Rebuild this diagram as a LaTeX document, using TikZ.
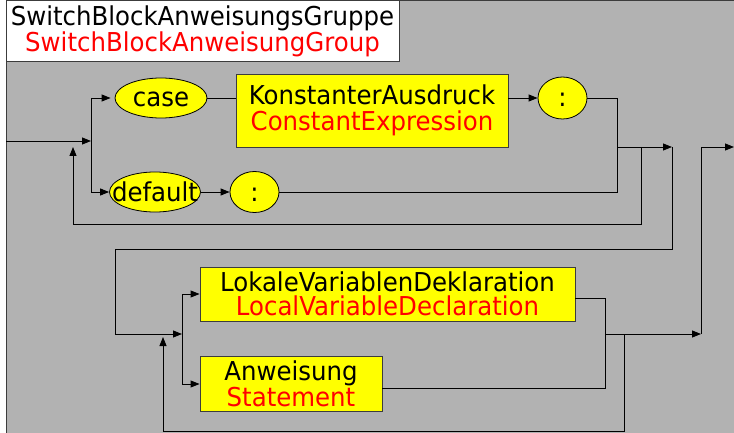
\documentclass[tikz,border=0pt]{standalone}
\usepackage{fontspec}
\setmainfont{DejaVu Sans}[FakeStretch=0.94]
\usetikzlibrary{arrows.meta,shapes.geometric}

\definecolor{panelgray}{HTML}{B2B2B2}
\definecolor{boxyellow}{HTML}{FFFF00}
\definecolor{engred}{HTML}{FF0000}
\definecolor{edgegray}{HTML}{3C3C3C}

% keyword text inside an ellipse: zero width so the ellipse keeps its set size
\newcommand{\railword}[1]{\makebox[0pt][c]{#1}}

\begin{document}
\begin{tikzpicture}[x=1pt,y=-1pt,
  >={Triangle[length=9pt,width=7pt]},
  rail/.style={draw=black,line width=0.9pt},
  ntbox/.style={draw=edgegray,line width=0.9pt,fill=boxyellow,inner sep=0pt,
    align=center,font=\fontsize{26}{24}\selectfont},
  tbox/.style={draw=black,line width=0.8pt,fill=boxyellow,ellipse,inner sep=0pt,
    text height=19pt,text depth=1pt,font=\fontsize{26}{26}\selectfont}
]
\useasboundingbox (0,0) rectangle (734,433);

% panel and heading
\fill[panelgray] (6,1) rectangle (734,433);
\draw[edgegray,line width=1pt] (6,433) -- (6,1) -- (734,1);
\node[draw=edgegray,line width=1pt,fill=white,minimum width=393pt,minimum height=61pt,
  inner sep=0pt,align=center,font=\fontsize{26}{25}\selectfont]
  (title) at (202.5,31.5) {SwitchBlockAnweisungsGruppe\\\textcolor{engred}{SwitchBlockAnweisungGroup}};

% first part: case / default labels
\node[tbox,minimum width=92pt,minimum height=40pt] (case) at (161,98) {\railword{case}};
\node[ntbox,minimum width=272pt,minimum height=73pt,font=\fontsize{26}{26.5}\selectfont]
  (K) at (372,110.5) {KonstanterAusdruck\\\textcolor{engred}{ConstantExpression}};
\node[tbox,minimum width=49pt,minimum height=42pt] (c1) at (562.5,98) {\railword{:}};
\node[tbox,minimum width=91pt,minimum height=40pt] (default) at (155,192) {\railword{default}};
\node[tbox,minimum width=49pt,minimum height=41pt] (c2) at (254.5,192) {\railword{:}};

% second part: block statements
\node[ntbox,minimum width=375pt,minimum height=54pt] (L) at (387.5,294)
  {LokaleVariablenDeklaration\\\textcolor{engred}{LocalVariableDeclaration}};
\node[ntbox,minimum width=182pt,minimum height=55pt] (A) at (291,384)
  {Anweisung\\\textcolor{engred}{Statement}};

% junction points
\coordinate (in) at (6,141);
\coordinate (j1) at (91,141);
\coordinate (m1) at (617,147);
\coordinate (m2) at (672,147);
\coordinate (r1) at (641,147);
\coordinate (loopA) at (73,147);
\coordinate (j2) at (182,334);
\coordinate (m3) at (605,334);
\coordinate (m4) at (701,334);
\coordinate (r2) at (624,334);
\coordinate (loopB) at (163,337);
\coordinate (out) at (734,147);

% connectors of the first part
\draw[rail,->] (in) -- (j1);
\draw[rail] (j1 |- case) -- (j1 |- default);
\draw[rail,->,shorten >=4pt] (j1 |- case) -- (case.west);
\draw[rail,->] (j1 |- default) -- (default.west);
\draw[rail] (case.east) -- (case.east -| K.west);
\draw[rail,->] (K.east |- c1) -- (c1.west);
\draw[rail,->] (default.east) -- (c2.west);
\draw[rail] (c1.east) -| (m1);
\draw[rail] (c2.east) -| (m1);
\draw[rail,->] (m1) -- (m2);
\draw[rail,->] (r1) -- ++(0,77) -| (loopA);

% wrap to the second part
\draw[rail,->] (m2) -- ++(0,102) -| (115,334) -- (j2);

% connectors of the second part
\draw[rail] (j2 |- L.west) -- (j2 |- A.west);
\draw[rail,->] (j2 |- L.west) -- (L.west);
\draw[rail,->] (j2 |- A.west) -- (A.west);
\draw[rail] ([yshift=-4pt]L.east) -| (m3);
\draw[rail] ([yshift=-4pt]A.east) -| (m3);
\draw[rail,->] (m3) -- (m4);
\draw[rail,->] (r2) -- ++(0,97) -| (loopB);
\draw[rail,->] (m4) |- (out);
\end{tikzpicture}
\end{document}
